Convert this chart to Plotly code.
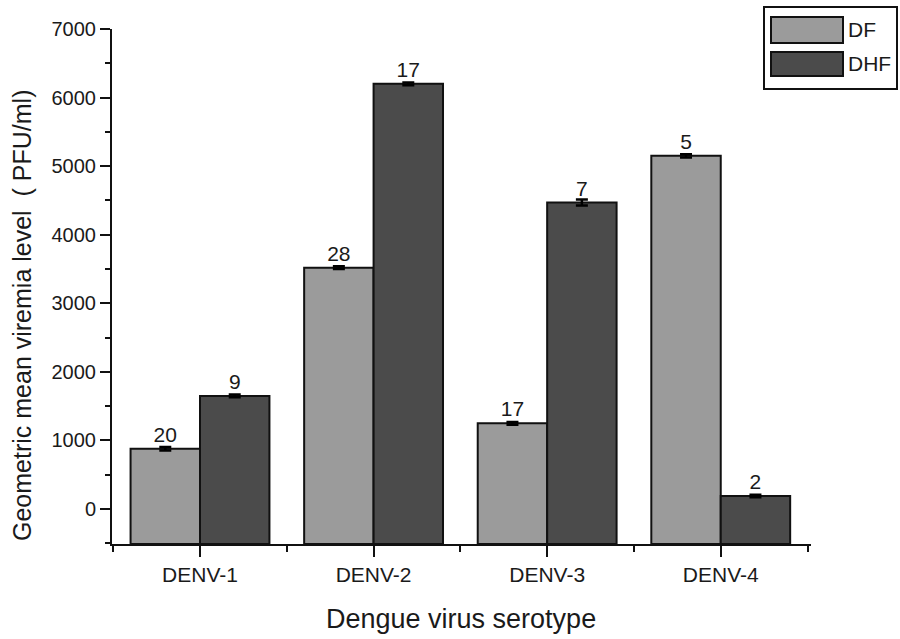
import plotly.graph_objects as go

# Geometric mean viremia by dengue serotype and clinical group
serotypes = ["DENV-1", "DENV-2", "DENV-3", "DENV-4"]
df_mean = [880, 3520, 1250, 5150]
dhf_mean = [1650, 6200, 4470, 190]
df_err = [25, 20, 20, 25]
dhf_err = [20, 20, 45, 20]
df_n = ["20", "28", "17", "5"]
dhf_n = ["9", "17", "7", "2"]

Y_MIN, Y_MAX = -510, 7000
X_MIN, X_MAX = -0.507, 3.52
FONT = "Liberation Sans, Arial, sans-serif"
TEXT = "#1a1a1a"
DF_COLOR = "#9b9b9b"
DHF_COLOR = "#4b4b4b"

# plot area in pixels
L, R, T, B = 112, 811, 29, 544
W, H = 900, 639


def px(x):
    return (x - L) / (R - L)


def py(y):
    return (B - y) / (B - T)


xs = list(range(len(serotypes)))

fig = go.Figure()
for name, vals, errs, ns, color in [
    ("DF", df_mean, df_err, df_n, DF_COLOR),
    ("DHF", dhf_mean, dhf_err, dhf_n, DHF_COLOR),
]:
    # bars rise from the bottom of the axis, as in Origin-style plots
    fig.add_trace(go.Bar(
        name=name,
        x=xs,
        y=[v - Y_MIN for v in vals],
        base=Y_MIN,
        marker=dict(color=color, line=dict(color="#111111", width=2)),
        error_y=dict(type="data", array=errs, color="#000000",
                     thickness=2.5, width=6),
        text=ns,
        textposition="outside",
        textfont=dict(family=FONT, size=21, color=TEXT),
        cliponaxis=False,
        showlegend=False,
    ))

fig.update_layout(
    width=W, height=H,
    margin=dict(l=L, r=W - R, t=T, b=H - B),
    paper_bgcolor="white",
    plot_bgcolor="white",
    barmode="group",
    bargap=0.2,
    bargroupgap=0,
    font=dict(family=FONT, color=TEXT),
)

fig.update_xaxes(
    range=[X_MIN, X_MAX],
    tickmode="array",
    tickvals=xs,
    ticktext=serotypes,
    tickfont=dict(family=FONT, size=21, color=TEXT),
    ticks="outside", ticklen=11, tickwidth=2, tickcolor="#111111",
    minor=dict(tick0=0.5, dtick=1, ticks="outside", ticklen=6,
               tickwidth=2, tickcolor="#111111"),
    showline=True, linecolor="#111111", linewidth=2,
    showgrid=False, zeroline=False,
)

fig.update_yaxes(
    range=[Y_MIN, Y_MAX],
    tickmode="array",
    tickvals=list(range(0, 7001, 1000)),
    tickfont=dict(family=FONT, size=20, color=TEXT),
    ticks="outside", ticklen=10, tickwidth=2, tickcolor="#111111",
    minor=dict(tick0=500, dtick=1000, ticks="outside", ticklen=5,
               tickwidth=2, tickcolor="#111111"),
    showline=True, linecolor="#111111", linewidth=2,
    showgrid=False, zeroline=False,
)

# axis titles
fig.add_annotation(
    text="Dengue virus serotype", xref="paper", yref="paper",
    x=px(461), y=py(619), xanchor="center", yanchor="middle",
    showarrow=False, font=dict(family=FONT, size=27, color=TEXT),
)
fig.add_annotation(
    text="Geometric mean viremia level  ( PFU/ml)", xref="paper", yref="paper",
    x=px(22), y=py(316), xanchor="center", yanchor="middle", textangle=-90,
    showarrow=False, font=dict(family=FONT, size=25, color=TEXT),
)

# legend box with large swatches
fig.add_shape(type="rect", xref="paper", yref="paper",
              x0=px(764), x1=px(897), y0=py(7), y1=py(89),
              line=dict(color="#111111", width=2), fillcolor="white")
for (label, color, y0, y1) in [("DF", DF_COLOR, 17, 43), ("DHF", DHF_COLOR, 52, 76)]:
    fig.add_shape(type="rect", xref="paper", yref="paper",
                  x0=px(771), x1=px(843), y0=py(y0), y1=py(y1),
                  line=dict(color="#111111", width=2), fillcolor=color)
    fig.add_annotation(text=label, xref="paper", yref="paper",
                       x=px(846), y=py((y0 + y1) / 2), xanchor="left",
                       yanchor="middle", showarrow=False,
                       font=dict(family=FONT, size=21, color=TEXT))

fig.write_html("out.html")
